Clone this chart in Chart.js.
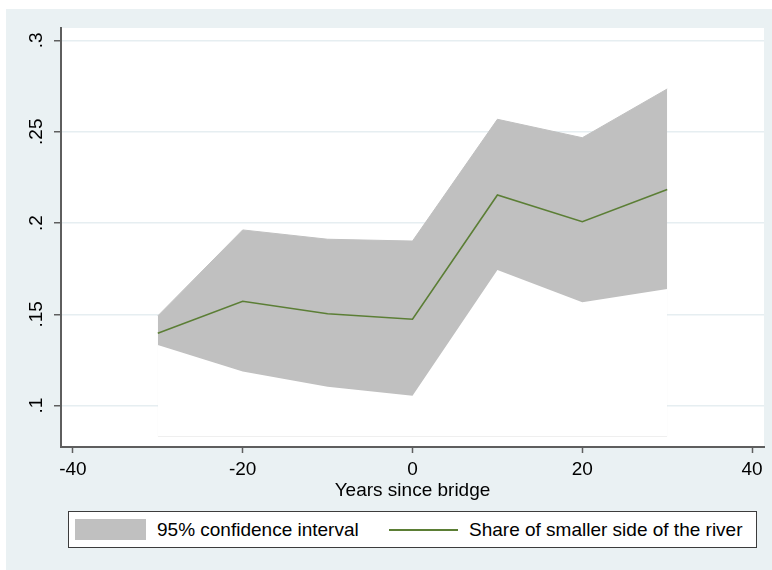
<!DOCTYPE html>
<html>
<head>
<meta charset="utf-8">
<script src="https://cdn.jsdelivr.net/npm/chart.js@4.4.1/dist/chart.umd.min.js"></script>
<style>
  body { margin: 0; background: #fff; }
  #wrap { position: relative; width: 772px; height: 570px; }
  #legend {
    position: absolute; left: 68px; top: 511px; width: 689px; height: 37px;
    box-sizing: border-box; border: 1px solid #3c3c3c; background: #fff;
    font: 19px "Liberation Sans", Arial, sans-serif; color: #000;
  }
  #legend span { position: absolute; }
  #legend .lbl { top: 0; line-height: 35px; white-space: nowrap; }
</style>
</head>
<body>
<div id="wrap">
  <canvas id="chart" width="772" height="570"></canvas>
  <div id="legend"></div>
</div>
<script>
// values
const years = [-30, -20, -10, 0, 10, 20, 30];
const share = [0.1396, 0.1571, 0.1503, 0.1473, 0.2153, 0.2007, 0.2184];
const ciUpper = [0.1491, 0.1962, 0.1911, 0.1901, 0.2568, 0.2467, 0.2734];
const ciLower = [0.1332, 0.1186, 0.1103, 0.1054, 0.1743, 0.1566, 0.1638];
const areaBase = 0.0831;

const xTicks = [-40, -20, 0, 20, 40];
const yTicks = [0.1, 0.15, 0.2, 0.25, 0.3];
const yTickLabels = ['.1', '.15', '.2', '.25', '.3'];

const green = '#5b7e35';
const ciGray = '#c0c0c0';
const axisColor = '#5e5e5e';
const gridColor = '#e6eef1';
const font = { family: '"Liberation Sans", Arial, sans-serif', size: 19 };

const toPoints = (vals) => years.map((x, i) => ({ x, y: vals[i] }));

// page + plot region backgrounds
const backdrop = {
  id: 'backdrop',
  beforeDraw(chart) {
    const { ctx, chartArea: a } = chart;
    ctx.save();
    ctx.fillStyle = '#ffffff';
    ctx.fillRect(0, 0, chart.width, chart.height);
    ctx.fillStyle = '#eaf1f3';
    ctx.fillRect(6, 9, chart.width - 6, chart.height - 9);
    ctx.fillStyle = '#ffffff';
    ctx.fillRect(a.left, a.top, a.right - a.left, a.bottom - a.top);
    ctx.restore();
  }
};

// boxed legend below the axis, built from the datasets
const htmlLegend = {
  id: 'htmlLegend',
  afterUpdate(chart) {
    const box = document.getElementById('legend');
    box.innerHTML = '';
    const ds = chart.data.datasets;
    const items = [ds[2], ds[0]];
    const slots = [{ key: 6, text: 88 }, { key: 320, text: 400 }];
    items.forEach((d, i) => {
      const key = document.createElement('span');
      if (d.fill) {
        key.style.cssText = `left:${slots[i].key}px;top:7px;width:71px;height:21px;background:${d.backgroundColor}`;
      } else {
        key.style.cssText = `left:${slots[i].key}px;top:17px;width:69px;height:2px;background:${d.borderColor}`;
      }
      const lbl = document.createElement('span');
      lbl.className = 'lbl';
      lbl.style.left = slots[i].text + 'px';
      lbl.textContent = d.label;
      box.appendChild(key);
      box.appendChild(lbl);
    });
  }
};

new Chart(document.getElementById('chart'), {
  type: 'line',
  data: {
    datasets: [
      {
        label: 'Share of smaller side of the river',
        data: toPoints(share),
        borderColor: green,
        borderWidth: 1.6,
        pointRadius: 0,
        fill: false,
        tension: 0
      },
      {
        label: '',
        data: toPoints(ciLower),
        borderColor: 'rgba(0,0,0,0)',
        borderWidth: 1,
        backgroundColor: '#ffffff',
        pointRadius: 0,
        fill: { value: areaBase }
      },
      {
        label: '95% confidence interval',
        data: toPoints(ciUpper),
        borderColor: ciGray,
        borderWidth: 1,
        backgroundColor: ciGray,
        pointRadius: 0,
        fill: { value: areaBase }
      }
    ]
  },
  options: {
    responsive: false,
    animation: false,
    layout: { padding: { top: 28, right: 8, bottom: 68, left: 0 } },
    plugins: {
      legend: { display: false },
      tooltip: { enabled: false }
    },
    scales: {
      x: {
        type: 'linear',
        min: -41.4,
        max: 41.4,
        afterBuildTicks: (s) => { s.ticks = xTicks.map(v => ({ value: v })); },
        afterFit: (s) => { s.height = 55; },
        grid: { drawOnChartArea: false, tickLength: 6, tickColor: axisColor, tickWidth: 1.5 },
        border: { color: axisColor, width: 2 },
        ticks: { color: '#000', font, padding: 5, maxRotation: 0 },
        title: { display: true, text: 'Years since bridge', color: '#000', font, padding: 0 }
      },
      y: {
        min: 0.0773,
        max: 0.3068,
        afterBuildTicks: (s) => { s.ticks = yTicks.map(v => ({ value: v })); },
        afterFit: (s) => { s.width = 61; },
        grid: { color: gridColor, lineWidth: 1.5, tickLength: 7, tickColor: axisColor, tickWidth: 1.5 },
        border: { color: axisColor, width: 2 },
        ticks: {
          color: '#000',
          font,
          padding: 4,
          minRotation: 90,
          maxRotation: 90,
          crossAlign: 'center',
          callback: (v, i) => yTickLabels[i]
        }
      }
    }
  },
  plugins: [backdrop, htmlLegend]
});
</script>
</body>
</html>
